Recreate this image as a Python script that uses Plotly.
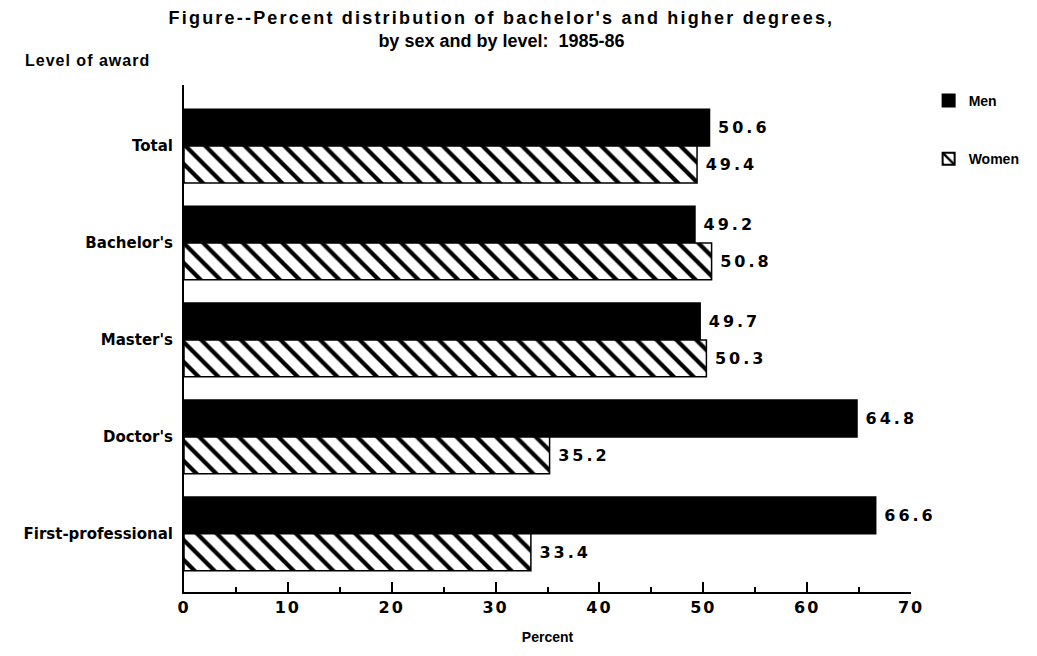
import plotly.graph_objects as go

categories = ["Total", "Bachelor's", "Master's", "Doctor's", "First-professional"]
men = [50.6, 49.2, 49.7, 64.8, 66.6]
women = [49.4, 50.8, 50.3, 35.2, 33.4]
x_ticks = [0, 10, 20, 30, 40, 50, 60, 70]

sans = "Liberation Sans"
numfont = dict(family="DejaVu Sans", size=16, color="black", weight="bold")

PLOT_W = 1029 - 176 - 111


def wide(s, sp=3):
    return f'<span style="letter-spacing:{sp}px">{s}</span>'


fig = go.Figure()
fig.add_trace(go.Bar(
    y=categories, x=men, orientation="h", name="Men", legendgroup="m",
    marker=dict(color="black", line=dict(color="black", width=1.5)),
    text=["\u00a0" + wide(f"{v:.1f}") for v in men], textposition="outside",
    textfont=numfont, cliponaxis=False,
))
fig.add_trace(go.Bar(
    y=categories, x=women, orientation="h", name="Women", legendgroup="w",
    marker=dict(color="white", line=dict(color="black", width=1.5),
                pattern=dict(shape="\\", fgcolor="black", bgcolor="white",
                             fgopacity=1, size=14, solidity=0.3)),
    text=["\u00a0" + wide(f"{v:.1f}") for v in women], textposition="outside",
    textfont=numfont, cliponaxis=False,
))

title_text = ("<b>" + wide("Figure--Percent distribution of bachelor's and higher degrees,", 2.2)
              + "<br>by sex and by level:  1985-86</b>")

fig.update_layout(
    width=1029, height=648,
    paper_bgcolor="white", plot_bgcolor="white",
    margin=dict(l=176, r=111, t=77, b=64),
    barmode="group", bargap=0.24, bargroupgap=0.0,
    title=dict(
        text=title_text,
        xref="paper", x=(508 - 184) / PLOT_W, xanchor="center", y=0.976, yanchor="top",
        font=dict(family=sans, size=18, color="black"),
    ),
    legend=dict(x=(936 - 176) / PLOT_W, y=1.0, xanchor="left", yanchor="top",
                font=dict(family=sans, size=14, color="black", weight="bold"),
                tracegroupgap=37, traceorder="grouped",
                itemsizing="constant"),
    xaxis=dict(
        range=[0, 70], tickvals=x_ticks, ticktext=[wide(str(t), 2) for t in x_ticks],
        showgrid=False, zeroline=False, showline=True, linecolor="black", linewidth=2,
        ticks="inside", ticklen=10, tickwidth=2, tickcolor="black",
        minor=dict(dtick=5, ticks="inside", ticklen=5, tickwidth=1.5, tickcolor="black", showgrid=False),
        tickfont=dict(family="DejaVu Sans", size=16, color="black", weight="bold"),
        title=dict(text="<b>Percent</b>", font=dict(family=sans, size=14, color="black"), standoff=16),
    ),
    yaxis=dict(
        type="category", categoryorder="array", categoryarray=categories,
        range=[4.6, -0.63],
        showgrid=False, zeroline=False, showline=True, linecolor="black", linewidth=2,
        ticks="", ticklabelstandoff=6,
        tickfont=dict(family="DejaVu Sans", size=15, color="black", weight="bold"),
    ),
    annotations=[dict(
        text="<b>" + wide("Level of award", 1) + "</b>", xref="paper", yref="paper",
        x=(12 - 176) / PLOT_W, y=1.049, xanchor="left", yanchor="middle", showarrow=False,
        font=dict(family=sans, size=16, color="black"),
    )],
)

fig.write_html("out.html")
